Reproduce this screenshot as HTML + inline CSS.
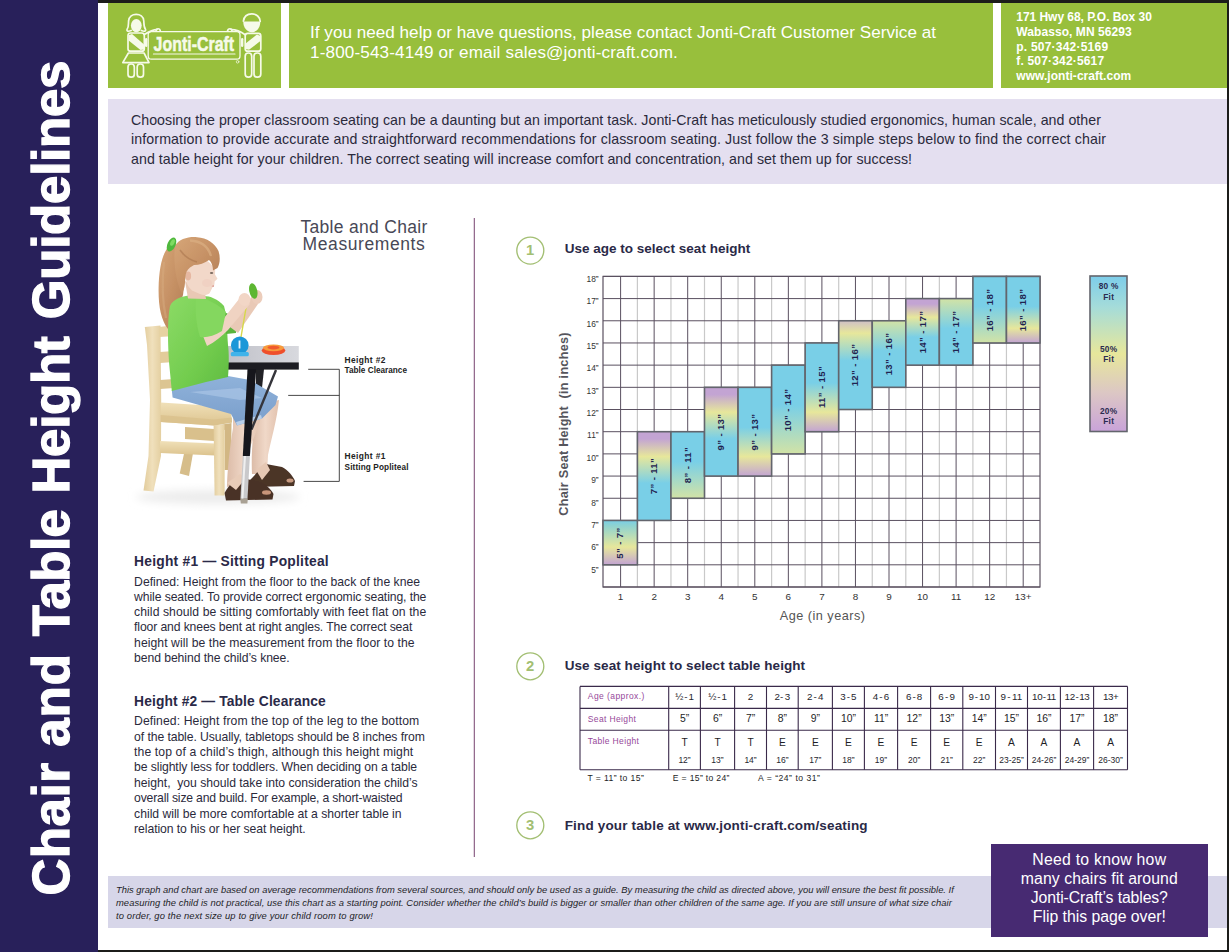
<!DOCTYPE html>
<html lang="en"><head><meta charset="utf-8"><title>Chair and Table Height Guidelines</title>
<style>
html,body{margin:0;padding:0}
body{width:1229px;height:952px;position:relative;overflow:hidden;background:#fff;font-family:"Liberation Sans", sans-serif}
.abs{position:absolute}
.t{position:absolute;white-space:pre;line-height:1}
.c{transform:translateX(-50%)}
.r{position:absolute;white-space:pre;line-height:1;transform:translate(-50%,-50%) rotate(-90deg)}
.b{position:absolute}
</style></head><body>
<div class="b" style="left:0;top:0;width:98px;height:952px;background:#28205a"></div>
<div class="b" style="left:98px;top:0;width:1131px;height:3px;background:#1c1d1a"></div>
<div class="b" style="left:1227px;top:0;width:2px;height:952px;background:#1c1d1a"></div>
<div class="b" style="left:98px;top:950px;width:1131px;height:2px;background:#1c1d1a"></div>
<div class="b" style="left:108px;top:3px;width:173px;height:85px;background:#98bf3c"></div>
<div class="b" style="left:289px;top:3px;width:704px;height:85px;background:#98bf3c"></div>
<div class="b" style="left:1001px;top:3px;width:226px;height:85px;background:#98bf3c"></div>
<div class="b" style="left:108px;top:99px;width:1119px;height:85px;background:#e4dff0"></div>
<div class="b" style="left:108px;top:876px;width:1119px;height:52px;background:#d7d6e9"></div>
<div class="b" style="left:990.5px;top:844px;width:217.5px;height:93px;background:#472a72"></div>
<svg class="abs" style="left:0;top:0" width="1229" height="952" viewBox="0 0 1229 952">
<defs>
<linearGradient id="g_cyp" x1="0" y1="0" x2="0" y2="1"><stop offset="0" stop-color="#79cfe7"/><stop offset="0.12" stop-color="#8fd3d0"/><stop offset="0.6" stop-color="#e7e79b"/><stop offset="1" stop-color="#c3a4d3"/></linearGradient>
<linearGradient id="g_pyc" x1="0" y1="0" x2="0" y2="1"><stop offset="0" stop-color="#c3a4d3"/><stop offset="0.08" stop-color="#c3a4d3"/><stop offset="0.28" stop-color="#e7e79b"/><stop offset="0.58" stop-color="#79cfe7"/><stop offset="1" stop-color="#79cfe7"/></linearGradient>
<linearGradient id="g_cyg" x1="0" y1="0" x2="0" y2="1"><stop offset="0" stop-color="#79cfe7"/><stop offset="0.45" stop-color="#79cfe7"/><stop offset="1" stop-color="#d2e3a6"/></linearGradient>
<linearGradient id="g_cyp2" x1="0" y1="0" x2="0" y2="1"><stop offset="0" stop-color="#79cfe7"/><stop offset="0.45" stop-color="#79cfe7"/><stop offset="0.78" stop-color="#e7e79b"/><stop offset="1" stop-color="#c3a4d3"/></linearGradient>
<linearGradient id="g_ygc" x1="0" y1="0" x2="0" y2="1"><stop offset="0" stop-color="#d2e3a6"/><stop offset="0.45" stop-color="#79cfe7"/><stop offset="1" stop-color="#79cfe7"/></linearGradient>
<linearGradient id="g_gyc" x1="0" y1="0" x2="0" y2="1"><stop offset="0" stop-color="#cfc0c6"/><stop offset="0.14" stop-color="#e7e79b"/><stop offset="0.45" stop-color="#79cfe7"/><stop offset="1" stop-color="#79cfe7"/></linearGradient>
<linearGradient id="g_leg" x1="0" y1="0" x2="0" y2="1"><stop offset="0" stop-color="#7dcdea"/><stop offset="0.2" stop-color="#a5dcd9"/><stop offset="0.5" stop-color="#e7e79b"/><stop offset="0.75" stop-color="#dcc7c4"/><stop offset="1" stop-color="#c9a3d9"/></linearGradient>
</defs>
<line x1="637.40" y1="276.4" x2="637.40" y2="587.0" stroke="#c9c9c9" stroke-width="1.2"/>
<line x1="670.95" y1="276.4" x2="670.95" y2="587.0" stroke="#c9c9c9" stroke-width="1.2"/>
<line x1="704.50" y1="276.4" x2="704.50" y2="587.0" stroke="#c9c9c9" stroke-width="1.2"/>
<line x1="738.05" y1="276.4" x2="738.05" y2="587.0" stroke="#c9c9c9" stroke-width="1.2"/>
<line x1="771.60" y1="276.4" x2="771.60" y2="587.0" stroke="#c9c9c9" stroke-width="1.2"/>
<line x1="805.15" y1="276.4" x2="805.15" y2="587.0" stroke="#c9c9c9" stroke-width="1.2"/>
<line x1="838.70" y1="276.4" x2="838.70" y2="587.0" stroke="#c9c9c9" stroke-width="1.2"/>
<line x1="872.25" y1="276.4" x2="872.25" y2="587.0" stroke="#c9c9c9" stroke-width="1.2"/>
<line x1="905.80" y1="276.4" x2="905.80" y2="587.0" stroke="#c9c9c9" stroke-width="1.2"/>
<line x1="939.35" y1="276.4" x2="939.35" y2="587.0" stroke="#c9c9c9" stroke-width="1.2"/>
<line x1="972.90" y1="276.4" x2="972.90" y2="587.0" stroke="#c9c9c9" stroke-width="1.2"/>
<line x1="1006.45" y1="276.4" x2="1006.45" y2="587.0" stroke="#c9c9c9" stroke-width="1.2"/>
<line x1="603.0" y1="276.40" x2="1040.0" y2="276.40" stroke="#5a5060" stroke-width="1"/>
<line x1="603.0" y1="298.59" x2="1040.0" y2="298.59" stroke="#5a5060" stroke-width="1"/>
<line x1="603.0" y1="320.77" x2="1040.0" y2="320.77" stroke="#5a5060" stroke-width="1"/>
<line x1="603.0" y1="342.96" x2="1040.0" y2="342.96" stroke="#5a5060" stroke-width="1"/>
<line x1="603.0" y1="365.14" x2="1040.0" y2="365.14" stroke="#5a5060" stroke-width="1"/>
<line x1="603.0" y1="387.33" x2="1040.0" y2="387.33" stroke="#5a5060" stroke-width="1"/>
<line x1="603.0" y1="409.51" x2="1040.0" y2="409.51" stroke="#5a5060" stroke-width="1"/>
<line x1="603.0" y1="431.70" x2="1040.0" y2="431.70" stroke="#5a5060" stroke-width="1"/>
<line x1="603.0" y1="453.89" x2="1040.0" y2="453.89" stroke="#5a5060" stroke-width="1"/>
<line x1="603.0" y1="476.07" x2="1040.0" y2="476.07" stroke="#5a5060" stroke-width="1"/>
<line x1="603.0" y1="498.26" x2="1040.0" y2="498.26" stroke="#5a5060" stroke-width="1"/>
<line x1="603.0" y1="520.44" x2="1040.0" y2="520.44" stroke="#5a5060" stroke-width="1"/>
<line x1="603.0" y1="542.63" x2="1040.0" y2="542.63" stroke="#5a5060" stroke-width="1"/>
<line x1="603.0" y1="564.81" x2="1040.0" y2="564.81" stroke="#5a5060" stroke-width="1"/>
<line x1="603.0" y1="587.00" x2="1040.0" y2="587.00" stroke="#5a5060" stroke-width="1"/>
<line x1="620.60" y1="276.4" x2="620.60" y2="587.0" stroke="#5a5060" stroke-width="1"/>
<line x1="654.15" y1="276.4" x2="654.15" y2="587.0" stroke="#5a5060" stroke-width="1"/>
<line x1="687.70" y1="276.4" x2="687.70" y2="587.0" stroke="#5a5060" stroke-width="1"/>
<line x1="721.25" y1="276.4" x2="721.25" y2="587.0" stroke="#5a5060" stroke-width="1"/>
<line x1="754.80" y1="276.4" x2="754.80" y2="587.0" stroke="#5a5060" stroke-width="1"/>
<line x1="788.35" y1="276.4" x2="788.35" y2="587.0" stroke="#5a5060" stroke-width="1"/>
<line x1="821.90" y1="276.4" x2="821.90" y2="587.0" stroke="#5a5060" stroke-width="1"/>
<line x1="855.45" y1="276.4" x2="855.45" y2="587.0" stroke="#5a5060" stroke-width="1"/>
<line x1="889.00" y1="276.4" x2="889.00" y2="587.0" stroke="#5a5060" stroke-width="1"/>
<line x1="922.55" y1="276.4" x2="922.55" y2="587.0" stroke="#5a5060" stroke-width="1"/>
<line x1="956.10" y1="276.4" x2="956.10" y2="587.0" stroke="#5a5060" stroke-width="1"/>
<line x1="989.65" y1="276.4" x2="989.65" y2="587.0" stroke="#5a5060" stroke-width="1"/>
<line x1="1023.20" y1="276.4" x2="1023.20" y2="587.0" stroke="#5a5060" stroke-width="1"/>
<rect x="603.0" y="276.4" width="437.0" height="310.6" fill="none" stroke="#5a5060" stroke-width="1.2"/>
<rect x="603.00" y="520.44" width="34.40" height="44.37" fill="url(#g_cyp)" stroke="#63656d" stroke-width="1.6"/>
<rect x="637.40" y="431.70" width="33.55" height="88.74" fill="url(#g_pyc)" stroke="#63656d" stroke-width="1.6"/>
<rect x="670.95" y="431.70" width="33.55" height="66.56" fill="url(#g_cyg)" stroke="#63656d" stroke-width="1.6"/>
<rect x="704.50" y="387.33" width="33.55" height="88.74" fill="url(#g_pyc)" stroke="#63656d" stroke-width="1.6"/>
<rect x="738.05" y="387.33" width="33.55" height="88.74" fill="url(#g_cyp2)" stroke="#63656d" stroke-width="1.6"/>
<rect x="771.60" y="365.14" width="33.55" height="88.74" fill="url(#g_cyg)" stroke="#63656d" stroke-width="1.6"/>
<rect x="805.15" y="342.96" width="33.55" height="88.74" fill="url(#g_cyp2)" stroke="#63656d" stroke-width="1.6"/>
<rect x="838.70" y="320.77" width="33.55" height="88.74" fill="url(#g_gyc)" stroke="#63656d" stroke-width="1.6"/>
<rect x="872.25" y="320.77" width="33.55" height="66.56" fill="url(#g_ygc)" stroke="#63656d" stroke-width="1.6"/>
<rect x="905.80" y="298.59" width="33.55" height="66.56" fill="url(#g_pyc)" stroke="#63656d" stroke-width="1.6"/>
<rect x="939.35" y="298.59" width="33.55" height="66.56" fill="url(#g_ygc)" stroke="#63656d" stroke-width="1.6"/>
<rect x="972.90" y="276.40" width="33.55" height="66.56" fill="url(#g_cyg)" stroke="#63656d" stroke-width="1.6"/>
<rect x="1006.45" y="276.40" width="33.55" height="66.56" fill="url(#g_cyp2)" stroke="#63656d" stroke-width="1.6"/>
<rect x="1090" y="276" width="37" height="155.5" fill="url(#g_leg)" stroke="#63656d" stroke-width="1.6"/>
<circle cx="530.3" cy="250.6" r="13.5" fill="none" stroke="#a3bf73" stroke-width="1.35"/>
<circle cx="530.3" cy="666.3" r="13.5" fill="none" stroke="#a3bf73" stroke-width="1.35"/>
<circle cx="530.3" cy="825.3" r="13.5" fill="none" stroke="#a3bf73" stroke-width="1.35"/>
<line x1="474.3" y1="218" x2="474.3" y2="857" stroke="#7d4c76" stroke-width="1.05"/>
<path d="M308.2 369.3H339.3V481.4H303.6M288.2 395.4H339.3" fill="none" stroke="#333" stroke-width="0.9"/>
<line x1="580" y1="686.4" x2="1127.5" y2="686.4" stroke="#3a2a4a" stroke-width="1.1"/>
<line x1="580" y1="708.4" x2="1127.5" y2="708.4" stroke="#3a2a4a" stroke-width="1.1"/>
<line x1="580" y1="730.3" x2="1127.5" y2="730.3" stroke="#3a2a4a" stroke-width="1.1"/>
<line x1="580" y1="769.8" x2="1127.5" y2="769.8" stroke="#3a2a4a" stroke-width="1.1"/>
<line x1="580" y1="686.4" x2="580" y2="769.8" stroke="#3a2a4a" stroke-width="1.1"/>
<line x1="668.7" y1="686.4" x2="668.7" y2="769.8" stroke="#3a2a4a" stroke-width="1.1"/>
<line x1="700.4" y1="686.4" x2="700.4" y2="769.8" stroke="#3a2a4a" stroke-width="1.1"/>
<line x1="734.6" y1="686.4" x2="734.6" y2="769.8" stroke="#3a2a4a" stroke-width="1.1"/>
<line x1="766.5" y1="686.4" x2="766.5" y2="769.8" stroke="#3a2a4a" stroke-width="1.1"/>
<line x1="798.2" y1="686.4" x2="798.2" y2="769.8" stroke="#3a2a4a" stroke-width="1.1"/>
<line x1="832.4" y1="686.4" x2="832.4" y2="769.8" stroke="#3a2a4a" stroke-width="1.1"/>
<line x1="864.4" y1="686.4" x2="864.4" y2="769.8" stroke="#3a2a4a" stroke-width="1.1"/>
<line x1="897.6" y1="686.4" x2="897.6" y2="769.8" stroke="#3a2a4a" stroke-width="1.1"/>
<line x1="930.6" y1="686.4" x2="930.6" y2="769.8" stroke="#3a2a4a" stroke-width="1.1"/>
<line x1="962.8" y1="686.4" x2="962.8" y2="769.8" stroke="#3a2a4a" stroke-width="1.1"/>
<line x1="995.5" y1="686.4" x2="995.5" y2="769.8" stroke="#3a2a4a" stroke-width="1.1"/>
<line x1="1027.5" y1="686.4" x2="1027.5" y2="769.8" stroke="#3a2a4a" stroke-width="1.1"/>
<line x1="1060.4" y1="686.4" x2="1060.4" y2="769.8" stroke="#3a2a4a" stroke-width="1.1"/>
<line x1="1093.6" y1="686.4" x2="1093.6" y2="769.8" stroke="#3a2a4a" stroke-width="1.1"/>
<line x1="1127.5" y1="686.4" x2="1127.5" y2="769.8" stroke="#3a2a4a" stroke-width="1.1"/>
</svg>
<svg class="abs" style="left:0;top:0" width="1229" height="952" viewBox="0 0 1229 952">
<defs>
<filter id="soft" x="-5%" y="-5%" width="110%" height="110%"><feGaussianBlur stdDeviation="0.55"/></filter>
<filter id="soft2" x="-20%" y="-50%" width="140%" height="200%"><feGaussianBlur stdDeviation="4"/></filter>
<linearGradient id="wood" x1="0" y1="0" x2="1" y2="0"><stop offset="0" stop-color="#e2cc9c"/><stop offset="0.5" stop-color="#f0e0bc"/><stop offset="1" stop-color="#e4cfa0"/></linearGradient>
<linearGradient id="woodv" x1="0" y1="0" x2="0" y2="1"><stop offset="0" stop-color="#f0e0b8"/><stop offset="1" stop-color="#dcc38e"/></linearGradient>
<linearGradient id="hair" x1="0" y1="0" x2="1" y2="1"><stop offset="0" stop-color="#d6a678"/><stop offset="0.5" stop-color="#c69165"/><stop offset="1" stop-color="#b07c54"/></linearGradient>
<linearGradient id="shirt" x1="0" y1="0" x2="1" y2="1"><stop offset="0" stop-color="#8cdb66"/><stop offset="0.6" stop-color="#72cc4e"/><stop offset="1" stop-color="#5fbb40"/></linearGradient>
<linearGradient id="jean" x1="0" y1="0" x2="0" y2="1"><stop offset="0" stop-color="#8fb2da"/><stop offset="1" stop-color="#7a9ecb"/></linearGradient>
<linearGradient id="ttop" x1="0" y1="0" x2="1" y2="0"><stop offset="0" stop-color="#bfc0c8"/><stop offset="1" stop-color="#d8d9de"/></linearGradient>
<linearGradient id="skinleg" x1="0" y1="0" x2="1" y2="0"><stop offset="0" stop-color="#dcbca8"/><stop offset="0.5" stop-color="#f0d8c8"/><stop offset="1" stop-color="#e2c2ae"/></linearGradient>
</defs>
<ellipse cx="218" cy="497" rx="82" ry="7" fill="#ececec" filter="url(#soft2)"/>
<g filter="url(#soft)">
<!-- chair back leg far -->
<polygon points="184.4,452 193.2,452 189,476 179.7,473.5" fill="#d6bd8a"/>
<!-- far apron -->
<polygon points="185,427 214,429 214,441 185,439" fill="#d9c08c"/>
<!-- back post -->
<polygon points="144.8,327 160.5,325.5 161.2,400 161,456 153.5,491.5 143.5,490.5 148.5,456 150,400 147,345" fill="url(#wood)"/>
<!-- ladder slats -->
<polygon points="159,327 176,325 176,336 159,337" fill="#e6d2a2"/>
<polygon points="160,352 174,351 174,362 160,363" fill="#e2cc9a"/>
<polygon points="160,380 174,379 174,388 160,389" fill="#dcc592"/>
<!-- lower stretcher -->
<polygon points="160,441 215,443.5 215,455.5 160,453" fill="url(#woodv)"/>
<!-- seat -->
<polygon points="160.7,402.5 200,405 231,411 232,422.5 214,425.5 160.7,422" fill="url(#woodv)"/><polygon points="160.7,415 214,419.5 232,417.5 232,422.5 214,425.5 160.7,422" fill="#d9c08c" opacity="0.8"/>
<polygon points="214,426 231.5,423 231,470 224.6,470 224.6,430" fill="#d2b784"/>
<!-- front leg -->
<polygon points="213.6,425 224.6,425 224.6,495.6 214.6,495.6" fill="url(#wood)"/>
<!-- far leg + sandal -->
<path d="M262,404 L279,400 C277,420 271,440 268,455 L267,474 L252,474 C251,455 253,430 256,415 Z" fill="url(#skinleg)"/>
<path d="M250,480 C258,472 262,466 266,464 L282,467 C288,470 293,476 295,481 L294,486 L252,487 Z" fill="#4b3428"/>
<path d="M256,470 L266,462 L270,470 L262,480 Z" fill="#e6c8b4"/>
<ellipse cx="290" cy="480.5" rx="3.5" ry="2" fill="#c89a80"/>
<!-- table second leg -->
<polygon points="256,369 264,369 262,388 256,388" fill="#222226"/>
<!-- near leg -->
<path d="M233,418 L262,414 C258,430 250,446 246,458 L245,482 L227,487 C227.5,465 231,440 233,428 Z" fill="url(#skinleg)"/>
<!-- near sandal -->
<path d="M224.6,493 C228,486 234,480 240,477 L262,483 C268,486 272,491 273.5,494 L272.5,499.5 L226,500.5 Z" fill="#4a3226"/>
<path d="M227,483 L240,474 L246,478 L236,490 Z" fill="#e8ccb8"/>
<ellipse cx="266.5" cy="492.5" rx="4.5" ry="2.2" fill="#c8957a"/>
<!-- shorts -->
<path d="M171.8,390 L206,380.5 L228,376 L250,380 L278,396.5 L275.5,405 L262,418.5 L237,425.5 L231,414 L172.6,397.5 Z" fill="url(#jean)"/>
<path d="M190,392 L240,388 L262,398 L240,400 Z" fill="#a9c5e6" opacity="0.7"/>
<path d="M262,418.5 L237,425.5 L236,422 L261,415 Z" fill="#b8cfea"/>
<line x1="276" y1="370" x2="251.5" y2="429.5" stroke="#34343a" stroke-width="2.4"/>
<!-- table leg -->
<polygon points="247.5,369 256.2,369 249.9,456 242.8,456" fill="#18181c"/>
<polygon points="242.8,456 249.9,456 247.5,498.8 240.4,498.8" fill="#c9c9cb"/>
<polygon points="243.9,456 246,456 243.4,498.8 241.4,498.8" fill="#efefef"/>
<polygon points="240.2,498.8 247.8,498.8 247.4,503.5 240.8,503.5" fill="#a9a194"/>
<!-- table -->
<polygon points="227,346 298.8,346 298.8,362.6 224.6,362.6" fill="url(#ttop)"/>
<rect x="224.6" y="362.4" width="74.2" height="7.2" fill="#1b1b20"/>
<!-- ponytail / back hair -->
<path d="M172,243 C163,250 159,266 158.6,288 C158.3,306 161,320 168,329 L176,326 C178,314 180,303 183,295 L186,270 L180,248 Z" fill="url(#hair)"/>
<path d="M164,262 C162,280 162,300 166,318" fill="none" stroke="#d6aa7e" stroke-width="2.2" opacity="0.55"/>
<!-- shirt body -->
<path d="M192,295 C182,296 173,299 170,306 C167,320 168,345 169,362 L171.8,391 L206,382 L228,377 C229,365 229,352 228,345 C227,330 227,316 224,306 C218,299 210,296 204,296 Z" fill="url(#shirt)"/>
<!-- far sleeve -->
<path d="M224,312 L237,318 L236,333 L226,334 Z" fill="#5ab43c"/>
<!-- far forearm + hand -->
<path d="M230,327 L238,333 L258,304 L252,296 Z" fill="#e9c9b6"/>
<ellipse cx="257" cy="297" rx="5.5" ry="7" fill="#eccdbb"/>
<!-- toy in hand -->
<ellipse cx="253.3" cy="291" rx="4" ry="8" transform="rotate(-12 253.3 291)" fill="#5db733"/>
<!-- string -->
<line x1="246.5" y1="305" x2="241" y2="337" stroke="#d6d848" stroke-width="1.4"/>
<!-- near arm -->
<path d="M201,331 L207,346 C215,342 222,336 228,330 L250,304 L243,294 L224,318 Z" fill="#f0d3c2"/>
<ellipse cx="244.5" cy="299.5" rx="6" ry="6.5" fill="#f2d6c6"/>
<!-- near sleeve -->
<path d="M196,297 C206,298 218,304 226,312 L222,331 C214,336 206,338 200,337 C196,325 195,310 196,297 Z" fill="#84d75e"/>
<!-- neck + face -->
<path d="M185,281 L205,293 L206,299 L188,298.5 Z" fill="#e9c8b4"/>
<path d="M188,266 L205,258.5 L212,265 L215.2,270 L215,274.5 L217.5,278.8 L214.6,281.4 L214.4,284.5 L212.4,287.6 L209.6,293.2 C207,295.5 203,295.3 200,294 L192,290.5 C188,287 185.6,282 185.5,276 Z" fill="#f2d8c9"/>
<ellipse cx="207" cy="283" rx="5" ry="4" fill="#efc5b6" opacity="0.35"/>
<ellipse cx="188.2" cy="276" rx="2.9" ry="4.4" fill="#e6b8a2"/>
<path d="M211.4,286 L214.2,285.2 L213.6,287 Z" fill="#d48a82"/>
<ellipse cx="211.6" cy="273" rx="1.7" ry="0.9" fill="#7a6a60"/>
<!-- top hair -->
<path d="M175,246 C179,239 188,236.6 197,237.2 C207,238 215,243 218.5,251 C220.5,257 220,264 217.5,268 L213,270.5 C213,266 211.5,262 209,260 C205,263 199,265 194,265 L190,267.5 C187,270 185.5,273 185.5,277 L184.5,287 L182,294 C176,282 173,262 175,246 Z" fill="url(#hair)"/>
<path d="M190,240.5 C200,241 208,246 211,256" fill="none" stroke="#dcb184" stroke-width="2.4" opacity="0.65"/>
<path d="M180,250 C184,256 190,260 197,262" fill="none" stroke="#a06a44" stroke-width="1.5" opacity="0.45"/>
<!-- scrunchie -->
<ellipse cx="171.5" cy="244.5" rx="4" ry="7.5" transform="rotate(25 171.5 244.5)" fill="#4fb83c"/><ellipse cx="172.5" cy="242.5" rx="2" ry="3.5" transform="rotate(25 172.5 242.5)" fill="#7fdc62"/>
<!-- toys on table -->
<circle cx="239.8" cy="345.3" r="8.8" fill="#1f97d8"/>
<rect x="230.8" y="352" width="18" height="4.2" rx="1.5" fill="#3fb3ea"/>
<rect x="238.6" y="340.5" width="1.8" height="8" fill="#e8f6ff"/>
<ellipse cx="273.5" cy="350.5" rx="11.8" ry="4.6" fill="#ef4f2c"/>
<ellipse cx="273.5" cy="347.8" rx="10.5" ry="3.4" fill="#f79a3a"/>
<ellipse cx="273.5" cy="347.6" rx="6" ry="1.8" fill="#ef5a2e"/>
</g>
</svg>

<svg class="abs" style="left:108px;top:3px" width="173" height="85" viewBox="108 3 173 85">
<g fill="none" stroke="#f6fae9" stroke-width="1.7" stroke-linejoin="round" stroke-linecap="round">
<!-- girl -->
<path d="M131.2,30.5 C128,32 126.6,31 127,29.5 C129,27 128.3,23 128.6,21 C129,16.5 132.5,14.4 136.2,14.4 C140,14.4 143.5,16.5 143.8,21 C144,23 143.5,27 145.6,29.5 C146,31 144.5,32 141.3,30.5"/>
<rect x="128" y="33" width="16.3" height="18.2" rx="2.5"/>
<path d="M128.4,53 H144 L149,62.6 H122.8 Z"/>
<rect x="128" y="64" width="6.3" height="13.2" rx="3"/>
<rect x="137.2" y="64" width="6.3" height="13.2" rx="3"/>
<path d="M144.3,34.5 C150,31 154,29.5 157,29.6"/>
<!-- boy -->
<path d="M243.4,21.2 C244,16.5 247.5,13.9 251.8,13.9 C256.5,13.9 260,17 260.2,21.4"/>
<rect x="245.2" y="33.4" width="15.6" height="17.8" rx="2.5"/>
<rect x="245.2" y="53" width="6.5" height="24.2" rx="3.2"/>
<rect x="254" y="53" width="6.8" height="24.2" rx="3.2"/>
<path d="M245.2,34.8 C240,31 235,29.5 231,29.6"/>
<!-- banner -->
<rect x="148.2" y="31.6" width="91.8" height="27.6" rx="3.2" stroke-width="1.3"/>
<line x1="153.4" y1="54" x2="235" y2="54" stroke-width="1.1"/>
<circle cx="237.6" cy="61.8" r="1.3" stroke-width="0.7"/>
<path d="M156,31 C156,28 160,28 160.3,31 M227.5,31 C228,28 232,28 232,31"/>
</g>
<g fill="#f6fae9">
<ellipse cx="136.3" cy="25.6" rx="5.4" ry="6.6"/>
<path d="M243.3,21.4 H260.2 C260.6,27 257,32.2 251.8,32.2 C246.5,32.2 243,27 243.3,21.4 Z"/>
<path d="M128.6,35.2 L132,34 L144,44.5 L144,49.5 L140.5,50 L128.6,40.5 Z"/>
<path d="M260.4,36 L257,34.5 L245.6,43.5 L245.6,49 L249,49.8 L260.4,41 Z"/>
<rect x="145" y="38" width="2.4" height="9" rx="1.2"/>
<rect x="241" y="38" width="2.4" height="9" rx="1.2"/>
<text x="153.6" y="51.4" font-family="Liberation Sans, sans-serif" font-weight="700" font-size="19.5" stroke="#f6fae9" stroke-width="0.5" textLength="80.5" lengthAdjust="spacingAndGlyphs">Jonti-Craft</text>
</g>
</svg>

<span class="t" style="left:310.00px;top:24.22px;font-size:17.1px;color:#fff;letter-spacing:0.021px;">If you need help or have questions, please contact Jonti-Craft Customer Service at</span>
<span class="t" style="left:310.00px;top:44.12px;font-size:17.1px;color:#fff;letter-spacing:0.146px;">1-800-543-4149 or email sales@jonti-craft.com.</span>
<span class="t" style="left:1016.30px;top:10.74px;font-size:12px;color:#fff;font-weight:700;letter-spacing:-0.045px;">171 Hwy 68, P.O. Box 30</span>
<span class="t" style="left:1016.30px;top:25.64px;font-size:12px;color:#fff;font-weight:700;letter-spacing:0.072px;">Wabasso, MN 56293</span>
<span class="t" style="left:1016.30px;top:40.54px;font-size:12px;color:#fff;font-weight:700;letter-spacing:0.218px;">p. 507·342·5169</span>
<span class="t" style="left:1016.30px;top:55.44px;font-size:12px;color:#fff;font-weight:700;letter-spacing:0.173px;">f. 507·342·5617</span>
<span class="t" style="left:1016.30px;top:70.34px;font-size:12px;color:#fff;font-weight:700;letter-spacing:0.040px;">www.jonti-craft.com</span>
<span class="t" style="left:131.00px;top:112.58px;font-size:14.2px;color:#2b2a3c;letter-spacing:0.031px;">Choosing the proper classroom seating can be a daunting but an important task. Jonti-Craft has meticulously studied ergonomics, human scale, and other</span>
<span class="t" style="left:131.00px;top:132.48px;font-size:14.2px;color:#2b2a3c;letter-spacing:0.116px;">information to provide accurate and straightforward recommendations for classroom seating. Just follow the 3 simple steps below to find the correct chair</span>
<span class="t" style="left:131.00px;top:152.38px;font-size:14.2px;color:#2b2a3c;letter-spacing:0.055px;">and table height for your children. The correct seating will increase comfort and concentration, and set them up for success!</span>
<span class="t" style="left:300.40px;top:218.68px;font-size:17.5px;color:#484856;letter-spacing:0.308px;">Table and Chair</span>
<span class="t" style="left:302.60px;top:236.18px;font-size:17.5px;color:#484856;letter-spacing:0.587px;">Measurements</span>
<span class="t" style="left:344.60px;top:356.29px;font-size:8.4px;color:#222;font-weight:700;letter-spacing:0.400px;">Height #2</span>
<span class="t" style="left:344.60px;top:367.46px;font-size:8.2px;color:#222;font-weight:700;letter-spacing:0.013px;">Table Clearance</span>
<span class="t" style="left:344.60px;top:451.89px;font-size:8.4px;color:#222;font-weight:700;letter-spacing:0.400px;">Height #1</span>
<span class="t" style="left:344.60px;top:463.56px;font-size:8.2px;color:#222;font-weight:700;letter-spacing:0.125px;">Sitting Popliteal</span>
<span class="t" style="left:134.10px;top:555.42px;font-size:13.8px;color:#2a2947;font-weight:700;letter-spacing:0.241px;">Height #1 — Sitting Popliteal</span>
<span class="t" style="left:134.10px;top:575.57px;font-size:12.2px;color:#2b2a3c;">Defined: Height from the floor to the back of the knee</span>
<span class="t" style="left:134.10px;top:590.85px;font-size:12.2px;color:#2b2a3c;letter-spacing:-0.103px;">while seated. To provide correct ergonomic seating, the</span>
<span class="t" style="left:134.10px;top:606.13px;font-size:12.2px;color:#2b2a3c;letter-spacing:0.063px;">child should be sitting comfortably with feet flat on the</span>
<span class="t" style="left:134.10px;top:621.41px;font-size:12.2px;color:#2b2a3c;letter-spacing:-0.128px;">floor and knees bent at right angles. The correct seat</span>
<span class="t" style="left:134.10px;top:636.69px;font-size:12.2px;color:#2b2a3c;letter-spacing:0.053px;">height will be the measurement from the floor to the</span>
<span class="t" style="left:134.10px;top:651.97px;font-size:12.2px;color:#2b2a3c;letter-spacing:-0.075px;">bend behind the child’s knee.</span>
<span class="t" style="left:134.10px;top:694.72px;font-size:13.8px;color:#2a2947;font-weight:700;letter-spacing:0.127px;">Height #2 — Table Clearance</span>
<span class="t" style="left:134.10px;top:715.17px;font-size:12.2px;color:#2b2a3c;letter-spacing:0.089px;">Defined: Height from the top of the leg to the bottom</span>
<span class="t" style="left:134.10px;top:730.58px;font-size:12.2px;color:#2b2a3c;letter-spacing:-0.081px;">of the table. Usually, tabletops should be 8 inches from</span>
<span class="t" style="left:134.10px;top:745.99px;font-size:12.2px;color:#2b2a3c;letter-spacing:0.106px;">the top of a child’s thigh, although this height might</span>
<span class="t" style="left:134.10px;top:761.40px;font-size:12.2px;color:#2b2a3c;letter-spacing:-0.092px;">be slightly less for toddlers. When deciding on a table</span>
<span class="t" style="left:134.10px;top:776.81px;font-size:12.2px;color:#2b2a3c;letter-spacing:-0.028px;">height,  you should take into consideration the child’s</span>
<span class="t" style="left:134.10px;top:792.22px;font-size:12.2px;color:#2b2a3c;letter-spacing:-0.180px;">overall size and build. For example, a short-waisted</span>
<span class="t" style="left:134.10px;top:807.63px;font-size:12.2px;color:#2b2a3c;letter-spacing:-0.016px;">child will be more comfortable at a shorter table in</span>
<span class="t" style="left:134.10px;top:823.04px;font-size:12.2px;color:#2b2a3c;letter-spacing:-0.072px;">relation to his or her seat height.</span>
<span class="t" style="left:564.70px;top:241.57px;font-size:13.5px;color:#2a2947;font-weight:700;letter-spacing:0.006px;">Use age to select seat height</span>
<span class="t" style="left:564.70px;top:659.27px;font-size:13.5px;color:#2a2947;font-weight:700;letter-spacing:0.071px;">Use seat height to select table height</span>
<span class="t" style="left:564.70px;top:818.57px;font-size:13.5px;color:#2a2947;font-weight:700;letter-spacing:0.157px;">Find your table at www.jonti-craft.com/seating</span>
<span class="t" style="left:526.08px;top:243.17px;font-size:14.8px;color:#a3bf73;font-weight:700;">1</span>
<span class="t" style="left:526.08px;top:658.87px;font-size:14.8px;color:#a3bf73;font-weight:700;">2</span>
<span class="t" style="left:526.08px;top:817.87px;font-size:14.8px;color:#a3bf73;font-weight:700;">3</span>
<span class="t" style="left:591.15px;top:565.70px;font-size:8.4px;color:#333;">5”</span>
<span class="t" style="left:591.15px;top:543.33px;font-size:8.4px;color:#333;">6”</span>
<span class="t" style="left:591.15px;top:520.96px;font-size:8.4px;color:#333;">7”</span>
<span class="t" style="left:591.15px;top:498.59px;font-size:8.4px;color:#333;">8”</span>
<span class="t" style="left:591.15px;top:476.22px;font-size:8.4px;color:#333;">9”</span>
<span class="t" style="left:586.49px;top:453.85px;font-size:8.4px;color:#333;">10”</span>
<span class="t" style="left:587.12px;top:431.48px;font-size:8.4px;color:#333;">11”</span>
<span class="t" style="left:586.49px;top:409.11px;font-size:8.4px;color:#333;">12”</span>
<span class="t" style="left:586.49px;top:386.74px;font-size:8.4px;color:#333;">13”</span>
<span class="t" style="left:586.49px;top:364.37px;font-size:8.4px;color:#333;">14”</span>
<span class="t" style="left:586.49px;top:342.00px;font-size:8.4px;color:#333;">15”</span>
<span class="t" style="left:586.49px;top:319.63px;font-size:8.4px;color:#333;">16”</span>
<span class="t" style="left:586.49px;top:297.26px;font-size:8.4px;color:#333;">17”</span>
<span class="t" style="left:586.49px;top:274.89px;font-size:8.4px;color:#333;">18”</span>
<span class="t" style="left:617.85px;top:591.52px;font-size:9.9px;color:#333;">1</span>
<span class="t" style="left:651.40px;top:591.52px;font-size:9.9px;color:#333;">2</span>
<span class="t" style="left:684.95px;top:591.52px;font-size:9.9px;color:#333;">3</span>
<span class="t" style="left:718.50px;top:591.52px;font-size:9.9px;color:#333;">4</span>
<span class="t" style="left:752.05px;top:591.52px;font-size:9.9px;color:#333;">5</span>
<span class="t" style="left:785.60px;top:591.52px;font-size:9.9px;color:#333;">6</span>
<span class="t" style="left:819.15px;top:591.52px;font-size:9.9px;color:#333;">7</span>
<span class="t" style="left:852.70px;top:591.52px;font-size:9.9px;color:#333;">8</span>
<span class="t" style="left:886.25px;top:591.52px;font-size:9.9px;color:#333;">9</span>
<span class="t" style="left:917.06px;top:591.52px;font-size:9.9px;color:#333;">10</span>
<span class="t" style="left:950.98px;top:591.52px;font-size:9.9px;color:#333;">11</span>
<span class="t" style="left:984.16px;top:591.52px;font-size:9.9px;color:#333;">12</span>
<span class="t" style="left:1014.82px;top:591.52px;font-size:9.9px;color:#333;">13+</span>
<span class="t" style="left:779.75px;top:609.85px;font-size:12.7px;color:#555;letter-spacing:0.480px;">Age (in years)</span>
<span class="t" style="left:587.80px;top:692.20px;font-size:8.5px;color:#96489a;letter-spacing:0.423px;">Age (approx.)</span>
<span class="t" style="left:587.80px;top:714.50px;font-size:8.5px;color:#96489a;letter-spacing:0.371px;">Seat Height</span>
<span class="t" style="left:587.80px;top:736.70px;font-size:8.5px;color:#96489a;letter-spacing:0.353px;">Table Height</span>
<span class="t" style="left:675.20px;top:691.90px;font-size:9.8px;color:#26262e;letter-spacing:-0.048px;word-spacing:-1.7px;">½ - 1</span>
<span class="t" style="left:679.92px;top:713.69px;font-size:10.4px;color:#1e1e26;">5”</span>
<span class="t" style="left:681.43px;top:738.06px;font-size:10.2px;color:#1e1e26;">T</span>
<span class="t" style="left:678.40px;top:756.20px;font-size:8.5px;color:#26262e;">12”</span>
<span class="t" style="left:708.15px;top:691.90px;font-size:9.8px;color:#26262e;letter-spacing:-0.048px;word-spacing:-1.7px;">½ - 1</span>
<span class="t" style="left:712.88px;top:713.69px;font-size:10.4px;color:#1e1e26;">6”</span>
<span class="t" style="left:714.38px;top:738.06px;font-size:10.2px;color:#1e1e26;">T</span>
<span class="t" style="left:711.35px;top:756.20px;font-size:8.5px;color:#26262e;">13”</span>
<span class="t" style="left:747.82px;top:691.90px;font-size:9.8px;color:#26262e;word-spacing:-1.7px;">2</span>
<span class="t" style="left:745.92px;top:713.69px;font-size:10.4px;color:#1e1e26;">7”</span>
<span class="t" style="left:747.43px;top:738.06px;font-size:10.2px;color:#1e1e26;">T</span>
<span class="t" style="left:744.40px;top:756.20px;font-size:8.5px;color:#26262e;">14”</span>
<span class="t" style="left:774.45px;top:691.90px;font-size:9.8px;color:#26262e;letter-spacing:0.153px;word-spacing:-1.7px;">2- 3</span>
<span class="t" style="left:777.73px;top:713.69px;font-size:10.4px;color:#1e1e26;">8”</span>
<span class="t" style="left:778.95px;top:738.06px;font-size:10.2px;color:#1e1e26;">E</span>
<span class="t" style="left:776.20px;top:756.20px;font-size:8.5px;color:#26262e;">16”</span>
<span class="t" style="left:806.95px;top:691.90px;font-size:9.8px;color:#26262e;letter-spacing:0.096px;word-spacing:-1.7px;">2 - 4</span>
<span class="t" style="left:810.67px;top:713.69px;font-size:10.4px;color:#1e1e26;">9”</span>
<span class="t" style="left:811.90px;top:738.06px;font-size:10.2px;color:#1e1e26;">E</span>
<span class="t" style="left:809.15px;top:756.20px;font-size:8.5px;color:#26262e;">17”</span>
<span class="t" style="left:840.35px;top:691.90px;font-size:9.8px;color:#26262e;letter-spacing:-0.024px;word-spacing:-1.7px;">3 - 5</span>
<span class="t" style="left:840.88px;top:713.69px;font-size:10.4px;color:#1e1e26;">10”</span>
<span class="t" style="left:845.00px;top:738.06px;font-size:10.2px;color:#1e1e26;">E</span>
<span class="t" style="left:842.25px;top:756.20px;font-size:8.5px;color:#26262e;">18”</span>
<span class="t" style="left:872.80px;top:691.90px;font-size:9.8px;color:#26262e;letter-spacing:0.036px;word-spacing:-1.7px;">4 - 6</span>
<span class="t" style="left:873.88px;top:713.69px;font-size:10.4px;color:#1e1e26;">11”</span>
<span class="t" style="left:877.60px;top:738.06px;font-size:10.2px;color:#1e1e26;">E</span>
<span class="t" style="left:874.85px;top:756.20px;font-size:8.5px;color:#26262e;">19”</span>
<span class="t" style="left:905.90px;top:691.90px;font-size:9.8px;color:#26262e;letter-spacing:0.036px;word-spacing:-1.7px;">6 - 8</span>
<span class="t" style="left:906.58px;top:713.69px;font-size:10.4px;color:#1e1e26;">12”</span>
<span class="t" style="left:910.70px;top:738.06px;font-size:10.2px;color:#1e1e26;">E</span>
<span class="t" style="left:907.95px;top:756.20px;font-size:8.5px;color:#26262e;">20”</span>
<span class="t" style="left:938.20px;top:691.90px;font-size:9.8px;color:#26262e;letter-spacing:0.156px;word-spacing:-1.7px;">6 - 9</span>
<span class="t" style="left:939.18px;top:713.69px;font-size:10.4px;color:#1e1e26;">13”</span>
<span class="t" style="left:943.30px;top:738.06px;font-size:10.2px;color:#1e1e26;">E</span>
<span class="t" style="left:940.55px;top:756.20px;font-size:8.5px;color:#26262e;">21”</span>
<span class="t" style="left:968.40px;top:691.90px;font-size:9.8px;color:#26262e;letter-spacing:-0.026px;word-spacing:-1.7px;">9 - 10</span>
<span class="t" style="left:971.63px;top:713.69px;font-size:10.4px;color:#1e1e26;">14”</span>
<span class="t" style="left:975.75px;top:738.06px;font-size:10.2px;color:#1e1e26;">E</span>
<span class="t" style="left:973.00px;top:756.20px;font-size:8.5px;color:#26262e;">22”</span>
<span class="t" style="left:1000.50px;top:691.90px;font-size:9.8px;color:#26262e;letter-spacing:0.177px;word-spacing:-1.7px;">9 - 11</span>
<span class="t" style="left:1003.98px;top:713.69px;font-size:10.4px;color:#1e1e26;">15”</span>
<span class="t" style="left:1008.10px;top:738.06px;font-size:10.2px;color:#1e1e26;">A</span>
<span class="t" style="left:999.21px;top:756.20px;font-size:8.5px;color:#26262e;">23-25”</span>
<span class="t" style="left:1032.10px;top:691.90px;font-size:9.8px;color:#26262e;letter-spacing:-0.382px;word-spacing:-1.7px;">10 - 11</span>
<span class="t" style="left:1036.43px;top:713.69px;font-size:10.4px;color:#1e1e26;">16”</span>
<span class="t" style="left:1040.55px;top:738.06px;font-size:10.2px;color:#1e1e26;">A</span>
<span class="t" style="left:1031.66px;top:756.20px;font-size:8.5px;color:#26262e;">24-26”</span>
<span class="t" style="left:1064.55px;top:691.90px;font-size:9.8px;color:#26262e;letter-spacing:-0.316px;word-spacing:-1.7px;">12 - 13</span>
<span class="t" style="left:1069.48px;top:713.69px;font-size:10.4px;color:#1e1e26;">17”</span>
<span class="t" style="left:1073.60px;top:738.06px;font-size:10.2px;color:#1e1e26;">A</span>
<span class="t" style="left:1064.71px;top:756.20px;font-size:8.5px;color:#26262e;">24-29”</span>
<span class="t" style="left:1103.00px;top:691.90px;font-size:9.8px;color:#26262e;letter-spacing:-0.508px;word-spacing:-1.7px;">13+</span>
<span class="t" style="left:1103.03px;top:713.69px;font-size:10.4px;color:#1e1e26;">18”</span>
<span class="t" style="left:1107.15px;top:738.06px;font-size:10.2px;color:#1e1e26;">A</span>
<span class="t" style="left:1098.26px;top:756.20px;font-size:8.5px;color:#26262e;">26-30”</span>
<span class="t" style="left:587.60px;top:774.32px;font-size:8.6px;color:#1e1e26;letter-spacing:0.397px;">T = 11” to 15”</span>
<span class="t" style="left:672.80px;top:774.32px;font-size:8.6px;color:#1e1e26;letter-spacing:0.335px;">E = 15” to 24”</span>
<span class="t" style="left:758.00px;top:774.32px;font-size:8.6px;color:#1e1e26;letter-spacing:0.520px;">A = “24” to 31”</span>
<span class="t" style="left:116.00px;top:884.84px;font-size:9.4px;color:#1e1e28;font-style:italic;letter-spacing:0.007px;">This graph and chart are based on average recommendations from several sources, and should only be used as a guide. By measuring the child as directed above, you will ensure the best fit possible. If</span>
<span class="t" style="left:116.00px;top:897.74px;font-size:9.4px;color:#1e1e28;font-style:italic;letter-spacing:0.051px;">measuring the child is not practical, use this chart as a starting point. Consider whether the child’s build is bigger or smaller than other children of the same age. If you are still unsure of what size chair</span>
<span class="t" style="left:116.00px;top:910.64px;font-size:9.4px;color:#1e1e28;font-style:italic;letter-spacing:0.136px;">to order, go the next size up to give your child room to grow!</span>
<span class="t" style="left:1032.30px;top:852.42px;font-size:15.8px;color:#fff;letter-spacing:0.252px;">Need to know how</span>
<span class="t" style="left:1020.80px;top:871.22px;font-size:15.8px;color:#fff;letter-spacing:0.072px;">many chairs fit around</span>
<span class="t" style="left:1030.80px;top:890.02px;font-size:15.8px;color:#fff;letter-spacing:-0.110px;">Jonti-Craft’s tables?</span>
<span class="t" style="left:1032.80px;top:908.82px;font-size:15.8px;color:#fff;letter-spacing:-0.023px;">Flip this page over!</span>
<span class="t c" style="left:1108.7px;top:282.47px;font-size:8.3px;font-weight:700;color:#2a2a50;letter-spacing:0.3px">80 %</span>
<span class="t c" style="left:1108.7px;top:293.37px;font-size:8.3px;font-weight:700;color:#2a2a50;letter-spacing:0.3px">Fit</span>
<span class="t c" style="left:1108.7px;top:344.57px;font-size:8.3px;font-weight:700;color:#2a2a50;letter-spacing:0.3px">50%</span>
<span class="t c" style="left:1108.7px;top:355.47px;font-size:8.3px;font-weight:700;color:#2a2a50;letter-spacing:0.3px">Fit</span>
<span class="t c" style="left:1108.7px;top:406.57px;font-size:8.3px;font-weight:700;color:#2a2a50;letter-spacing:0.3px">20%</span>
<span class="t c" style="left:1108.7px;top:417.47px;font-size:8.3px;font-weight:700;color:#2a2a50;letter-spacing:0.3px">Fit</span>

<span class="r" style="left:620.20px;top:542.63px;font-size:9.6px;font-weight:700;color:#1f2350;letter-spacing:0.35px">5” - 7”</span>
<span class="r" style="left:654.17px;top:476.07px;font-size:9.6px;font-weight:700;color:#1f2350;letter-spacing:0.35px">7” - 11”</span>
<span class="r" style="left:687.72px;top:464.98px;font-size:9.6px;font-weight:700;color:#1f2350;letter-spacing:0.35px">8” - 11”</span>
<span class="r" style="left:721.27px;top:431.70px;font-size:9.6px;font-weight:700;color:#1f2350;letter-spacing:0.35px">9” - 13”</span>
<span class="r" style="left:754.82px;top:431.70px;font-size:9.6px;font-weight:700;color:#1f2350;letter-spacing:0.35px">9” - 13”</span>
<span class="r" style="left:788.38px;top:409.51px;font-size:9.6px;font-weight:700;color:#1f2350;letter-spacing:0.35px">10” - 14”</span>
<span class="r" style="left:821.92px;top:387.33px;font-size:9.6px;font-weight:700;color:#1f2350;letter-spacing:0.35px">11” - 15”</span>
<span class="r" style="left:855.47px;top:365.14px;font-size:9.6px;font-weight:700;color:#1f2350;letter-spacing:0.35px">12” - 16”</span>
<span class="r" style="left:889.02px;top:354.05px;font-size:9.6px;font-weight:700;color:#1f2350;letter-spacing:0.35px">13” - 16”</span>
<span class="r" style="left:922.57px;top:331.86px;font-size:9.6px;font-weight:700;color:#1f2350;letter-spacing:0.35px">14” - 17”</span>
<span class="r" style="left:956.12px;top:331.86px;font-size:9.6px;font-weight:700;color:#1f2350;letter-spacing:0.35px">14” - 17”</span>
<span class="r" style="left:989.67px;top:309.68px;font-size:9.6px;font-weight:700;color:#1f2350;letter-spacing:0.35px">16” - 18”</span>
<span class="r" style="left:1023.22px;top:309.68px;font-size:9.6px;font-weight:700;color:#1f2350;letter-spacing:0.35px">16” - 18”</span>
<span class="r" style="left:563.6px;top:424.3px;font-size:12.6px;font-weight:700;color:#55555c;letter-spacing:0.28px">Chair Seat Height  (in inches)</span>
<span class="r" style="left:52.0px;top:828.65px;font-size:51.1px;font-weight:700;color:#fff;letter-spacing:0.5px;-webkit-text-stroke:1.3px #fff">Chair</span>
<span class="r" style="left:52.0px;top:700.38px;font-size:51.1px;font-weight:700;color:#fff;letter-spacing:0.95px;-webkit-text-stroke:1.3px #fff">and</span>
<span class="r" style="left:52.0px;top:572.98px;font-size:51.1px;font-weight:700;color:#fff;letter-spacing:-0.63px;-webkit-text-stroke:1.3px #fff">Table</span>
<span class="r" style="left:52.0px;top:415.23px;font-size:51.1px;font-weight:700;color:#fff;letter-spacing:-0.34px;-webkit-text-stroke:1.3px #fff">Height</span>
<span class="r" style="left:52.0px;top:190.16px;font-size:51.1px;font-weight:700;color:#fff;letter-spacing:-0.29px;-webkit-text-stroke:1.3px #fff">Guidelines</span>
</body></html>
